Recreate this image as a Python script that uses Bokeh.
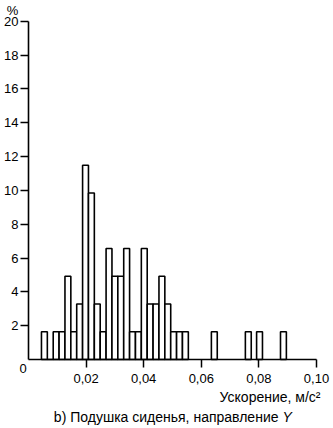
from bokeh.plotting import figure
from bokeh.models import Range1d, FixedTicker, ColumnDataSource, Label, CustomJSTickFormatter
from bokeh.embed import file_html
from bokeh.resources import INLINE

# histogram bins (left edge, m/s^2) and share of samples (%)
bin_left = [0.0045, 0.00654, 0.00858, 0.01062, 0.01266, 0.0147, 0.01674, 0.01878,
            0.02082, 0.02286, 0.0249, 0.02694, 0.02898, 0.03102, 0.03306, 0.0351,
            0.03714, 0.03918, 0.04122, 0.04326, 0.0453, 0.04734, 0.04938, 0.05142,
            0.05346, 0.0635, 0.0753, 0.0792, 0.0875]
bin_width = 0.00204
percent = [1.64, 0.0, 1.64, 1.64, 4.92, 1.64, 3.28, 11.48,
           9.84, 3.28, 1.64, 6.56, 4.92, 4.92, 6.56, 1.64,
           1.64, 6.56, 3.28, 3.28, 4.92, 3.28, 1.64, 1.64,
           1.64, 1.64, 1.64, 1.64, 1.64]

x_ticks = [0.02, 0.04, 0.06, 0.08, 0.10]
y_ticks = [2, 4, 6, 8, 10, 12, 14, 16, 18, 20]
x_bounds = (0, 0.10)
y_bounds = (0, 20)

x_label = "Ускорение, м/с²"
y_unit = "%"
caption = "b) Подушка сиденья, направление"
caption_axis = "Y"

FONT = "Liberation Sans"

src = ColumnDataSource(dict(
    left=bin_left,
    right=[b + bin_width for b in bin_left],
    top=percent,
    bottom=[0.0] * len(percent),
))

W, H = 332, 427
PX_X = 2880.0      # pixels per m/s^2
PX_Y = 16.915      # pixels per %
X0, Y0 = 28, 359   # pixel position of the origin

p = figure(width=W, height=H, output_backend="svg", toolbar_location=None,
           x_range=Range1d(-X0 / PX_X, (W - X0) / PX_X),
           y_range=Range1d(-(H - Y0) / PX_Y, Y0 / PX_Y),
           min_border=0)
p.outline_line_color = None
p.grid.visible = False
p.background_fill_color = "white"
p.border_fill_color = "white"

p.quad(left="left", right="right", top="top", bottom="bottom", source=src,
       fill_color="white", line_color="black", line_width=1.6)

for ax in (p.xaxis[0], p.yaxis[0]):
    ax.fixed_location = 0
    ax.axis_line_width = 1.6
    ax.axis_line_color = "black"
    ax.major_tick_line_width = 1.5
    ax.major_tick_line_color = "black"
    ax.major_tick_in = 0
    ax.major_tick_out = 8
    ax.minor_tick_line_color = None
    ax.major_label_text_font = FONT
    ax.major_label_text_font_size = "13px"
    ax.major_label_text_color = "black"

p.xaxis[0].bounds = x_bounds
p.xaxis[0].ticker = FixedTicker(ticks=x_ticks)
p.xaxis[0].formatter = CustomJSTickFormatter(code="return tick.toFixed(2).replace('.', ',');")
p.xaxis[0].major_label_standoff = 6
p.yaxis[0].bounds = y_bounds
p.yaxis[0].ticker = FixedTicker(ticks=y_ticks)
p.yaxis[0].major_label_standoff = 2

def lab(text, x, y, dx, dy, align, size="14px", italic=False):
    p.add_layout(Label(x=x, y=y, x_offset=dx, y_offset=dy, text=text,
                       text_align=align, text_baseline="middle",
                       text_font=FONT, text_font_size=size, text_color="black",
                       text_font_style="italic" if italic else "normal"))

lab("0", 0, 0, -5.5, -8.5, "center", size="13px")
lab(y_unit, 0, 20, -16, 11.2, "center", size="13px")
lab(x_label, 0.10, 0, 4, -37, "right")
lab(caption, 0.0868, 0, 0, -57.5, "right")
lab(caption_axis, 0.0868, 0, 4, -57.5, "left", italic=True)

open("out.html", "w").write(file_html(p, INLINE))
